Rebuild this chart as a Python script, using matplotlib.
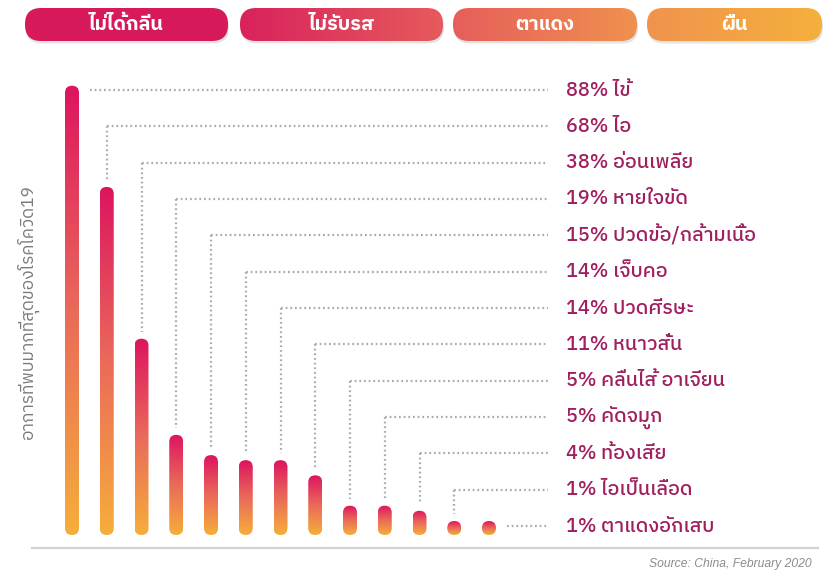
import numpy as np
import matplotlib
matplotlib.use('Agg')
import matplotlib.pyplot as plt
import matplotlib.patches as pch
from matplotlib import font_manager
from matplotlib.colors import LinearSegmentedColormap

# data
symptoms = ['ไข้', 'ไอ', 'อ่อนเพลีย', 'หายใจขัด', 'ปวดข้อ/กล้ามเนื้อ', 'เจ็บคอ', 'ปวดศีรษะ',
            'หนาวสั่น', 'คลื่นไส้ อาเจียน', 'คัดจมูก', 'ท้องเสีย', 'ไอเป็นเลือด', 'ตาแดงอักเสบ']
percents = [88, 68, 38, 19, 15, 14, 14, 11, 5, 5, 4, 1, 1]
header_labels = ['ไม่ได้กลิ่น', 'ไม่รับรส', 'ตาแดง', 'ผื่น']
y_title = 'อาการที่พบมากที่สุดของโรคโควิด19'
source_note = 'Source: China, February 2020'


def find_thai_fonts():
    # look for any installed family that has thai glyphs
    found = []
    try:
        from fontTools.ttLib import TTFont
    except ImportError:
        return found
    for f in font_manager.fontManager.ttflist:
        if f.name in found:
            continue
        try:
            tt = TTFont(f.fname, fontNumber=0, lazy=True)
            cmap = tt.getBestCmap()
            if cmap and 0x0E44 in cmap and 0x0E01 in cmap:
                found.append(f.name)
        except Exception:
            pass
    found.sort(key=lambda n: (0 if 'Thai' in n else 1, n))
    return found


thai = find_thai_fonts()
families = thai + ['DejaVu Sans']
plt.rcParams['font.family'] = families

W, H = 825, 572
fig = plt.figure(figsize=(W / 100, H / 100), dpi=100)

# main axes: x = bar index, y = percent
px_per_x = 34.75
px_per_y = 5.06
x0_px, y0_px = 72, 535
ax_left, ax_right, ax_top, ax_bottom = 32, 818, 70, 548
ax = fig.add_axes([ax_left / W, (H - ax_bottom) / H, (ax_right - ax_left) / W, (ax_bottom - ax_top) / H])
ax.set_xlim((ax_left - x0_px) / px_per_x, (ax_right - x0_px) / px_per_x)
ax.set_ylim((y0_px - ax_bottom) / px_per_y, (y0_px - ax_top) / px_per_y)

bar_cmap = LinearSegmentedColormap.from_list('bar', ['#f6ae3b', '#ea6a5a', '#dd145f'])
grad = np.linspace(0, 1, 256).reshape(-1, 1)

bar_w = 14 / px_per_x
aspect = px_per_x / px_per_y
pad_top = 4 / px_per_y
xs = np.arange(len(percents))
tops = []
for x, v in zip(xs, percents):
    top = max(v + pad_top, bar_w * aspect)
    tops.append(top)
    patch = pch.FancyBboxPatch((x - bar_w / 2, 0), bar_w, top,
                               boxstyle='round,pad=0,rounding_size=%f' % (bar_w / 2),
                               mutation_aspect=aspect, facecolor='none', edgecolor='none')
    ax.add_patch(patch)
    im = ax.imshow(grad, cmap=bar_cmap, origin='lower', aspect='auto',
                   extent=(x - bar_w / 2, x + bar_w / 2, 0, top), zorder=2)
    im.set_clip_path(patch)

# label rows and dotted leader lines
row_y = np.linspace((y0_px - 90) / px_per_y, (y0_px - 526) / px_per_y, len(percents))
line_end = (548 - x0_px) / px_per_x
label_x = (566 - x0_px) / px_per_x
dot_style = dict(color='#ababab', linewidth=1.6, linestyle=(0, (0.8, 1.3)), zorder=1)
last = len(percents) - 1
for i, (x, v) in enumerate(zip(xs, percents)):
    y = row_y[i]
    if i == 0 or i == last:
        ax.plot([x + 0.52, line_end], [y, y], **dot_style)
    else:
        ax.plot([x, line_end], [y, y], **dot_style)
        ax.plot([x, x], [y, tops[i] + 7 / px_per_y], **dot_style)
    ax.text(label_x, y, '%d%% %s' % (v, symptoms[i]), ha='left', va='center',
            fontsize=14.2, color='#a01f5f', fontweight='medium')

ax.set_xticks([])
ax.set_yticks([])
for s in ['top', 'left', 'right']:
    ax.spines[s].set_visible(False)
ax.spines['bottom'].set_color('#d2d2d2')
ax.spines['bottom'].set_linewidth(1.6)
ax.patch.set_alpha(0)

# header pills
hx = fig.add_axes([0, (H - 50) / H, 1, 50 / H])
hx.set_xlim(0, W)
hx.set_ylim(50, 0)
hx.axis('off')
head_cmap = LinearSegmentedColormap.from_list(
    'head', [(0, '#d8195c'), (228 / W, '#d8195c'), (240 / W, '#d9225d'), (450 / W, '#e65d5c'),
             (645 / W, '#f0934e'), (1, '#f5b03d')])
hgrad = np.linspace(0, 1, 512).reshape(1, -1)
pills = [(25, 228), (240, 443), (453, 637), (647, 822)]
for (a, b), lab in zip(pills, header_labels):
    shadow = pch.FancyBboxPatch((a + 1, 10.5), b - a, 33, boxstyle='round,pad=0,rounding_size=16',
                                facecolor='#808080', edgecolor='none', alpha=0.22)
    hx.add_patch(shadow)
    pill = pch.FancyBboxPatch((a, 8), b - a, 33, boxstyle='round,pad=0,rounding_size=16',
                              facecolor='none', edgecolor='none')
    hx.add_patch(pill)
    im = hx.imshow(hgrad, cmap=head_cmap, aspect='auto', extent=(0, W, 41, 8), zorder=2)
    im.set_clip_path(pill)
    hx.text((a + b) / 2, 24.5, lab, ha='center', va='center', color='white',
            fontsize=14.2, fontweight='bold', zorder=3)

fig.text(28 / W, 1 - 313 / H, y_title, rotation=90, ha='center', va='center',
         color='#7a7a7a', fontsize=12.5)
fig.text(812 / W, 1 - 564 / H, source_note, ha='right', va='center', style='italic',
         color='#8c8c8c', fontsize=8.7,
         family=['Liberation Sans Narrow', 'Liberation Sans', 'DejaVu Sans'])

fig.savefig('out.png', dpi=100)
